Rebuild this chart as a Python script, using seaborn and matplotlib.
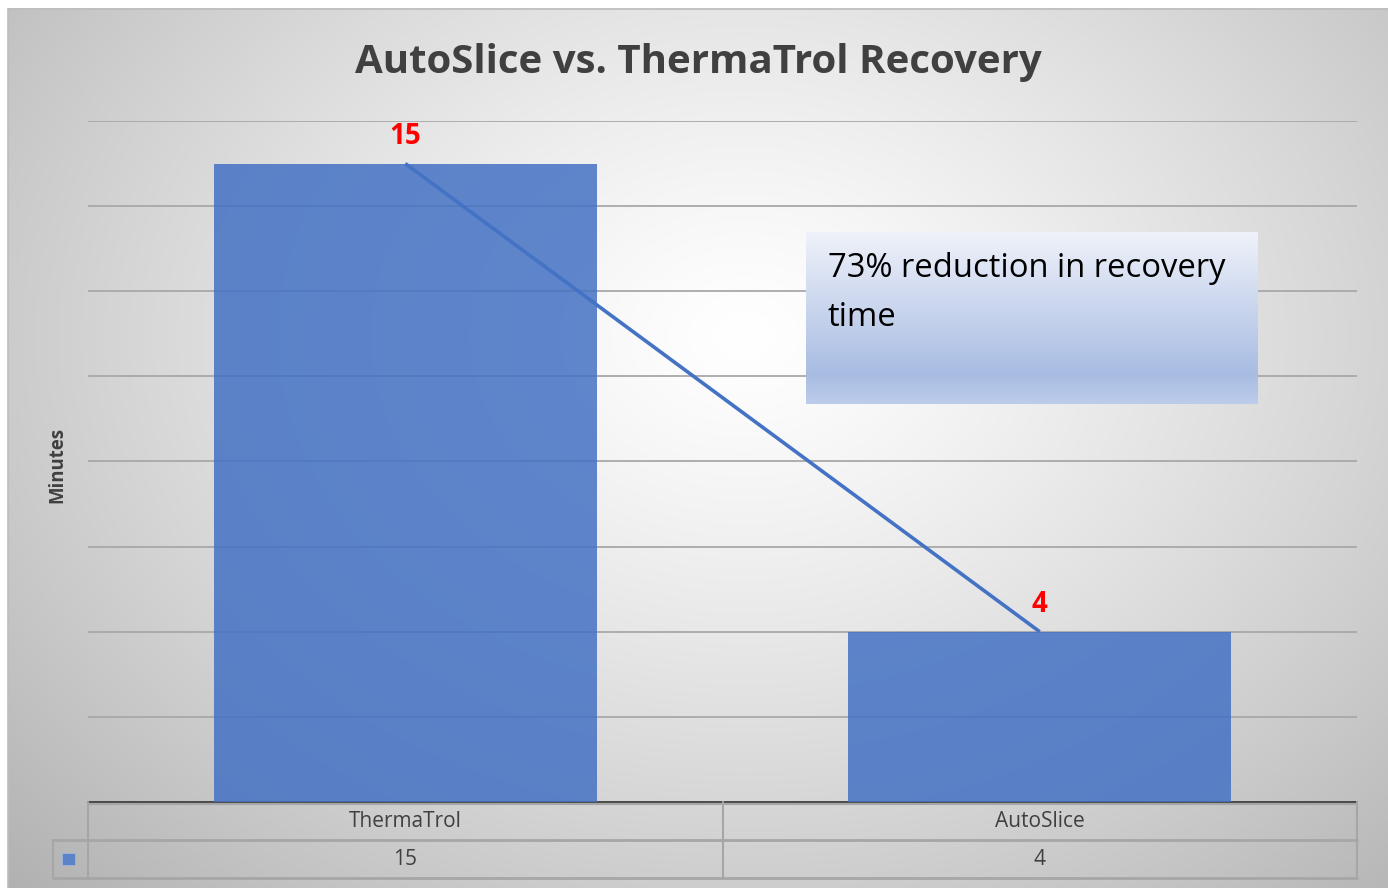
import numpy as np
import matplotlib
matplotlib.use("Agg")
import matplotlib.pyplot as plt
from matplotlib.patches import Rectangle
import seaborn as sns

# Chart data
categories = ["ThermaTrol", "AutoSlice"]
values = [15, 4]
table_values = ["15", "4"]
title = "AutoSlice vs. ThermaTrol Recovery"
y_label = "Minutes"
note = "73% reduction in recovery\ntime"

sns.set_theme(style="white")
plt.rcParams["font.family"] = ["Open Sans", "DejaVu Sans"]

W, H = 1388, 888
fig = plt.figure(figsize=(W / 100, H / 100), dpi=100)
fig.patch.set_facecolor("white")

# Radial grey-to-white chart background
bg = fig.add_axes([0, 0, 1, 1], zorder=-10)
bg.set_xlim(0, W)
bg.set_ylim(H, 0)
bg.axis("off")
yy, xx = np.mgrid[0:H, 0:W]
r = np.sqrt(((xx - 740) / 880.0) ** 2 + ((yy - 330) / 680.0) ** 2)
shade = np.clip(1.0 - 0.25 * np.clip(r, 0, 1.25) ** 1.25, 0, 1)
img = np.dstack([shade, shade, shade])
bg.imshow(img, extent=[8, W, H, 9], aspect="auto", interpolation="bilinear")
bg.plot([8, 8], [9, H], color="#bdbdbd", lw=1.2)
bg.plot([8, W], [9, 9], color="#bdbdbd", lw=1.2)

# Main plot area
px = lambda x0, y0, x1, y1: [x0 / W, 1 - y1 / H, (x1 - x0) / W, (y1 - y0) / H]
ax = fig.add_axes(px(88, 121, 1357, 802))
ax.patch.set_alpha(0)

bar_color = "#4472C4"
sns.barplot(x=categories, y=values, color=bar_color, saturation=1, width=0.604,
            alpha=0.85, ax=ax, zorder=3, linewidth=0)
ax.set_xlim(-0.5, 1.5)
ax.set_ylim(0, 16)
ax.set_yticks(np.arange(0, 17, 2))
ax.yaxis.grid(True, color="#a8a8a8", lw=1.3, zorder=1)
ax.set_axisbelow(True)
ax.tick_params(left=False, bottom=False, labelleft=False, labelbottom=False)
ax.set_xlabel("")
ax.set_ylabel("")
for s in ["top", "left", "right"]:
    ax.spines[s].set_visible(False)
ax.spines["bottom"].set_color("#404040")
ax.spines["bottom"].set_linewidth(1.3)

# Line linking the two bar tops
ax.plot(range(len(values)), values, color=bar_color, lw=2.6, zorder=5,
        solid_capstyle="butt")

# Value labels
for i, v in enumerate(values):
    ax.text(i, v + 0.3, str(v), color="#FF0000", fontsize=20, fontweight="bold",
            ha="center", va="bottom", zorder=6)

# Title and axis title
fig.text(698 / W, 1 - 63 / H, title, fontsize=29, fontweight="bold",
         color="#404040", ha="center", va="center")
fig.text(57 / W, 1 - 465 / H, y_label, fontsize=13.4, fontweight="bold",
         color="#404040", rotation=90, ha="center", va="center")

# Callout box with vertical blue gradient
box_ax = fig.add_axes(px(806, 232, 1258, 404), zorder=8)
box_ax.axis("off")
t = np.linspace(0, 1, 200)
top = np.array([0.94, 0.95, 0.98])
mid = np.array([0.66, 0.74, 0.89])
bot = np.array([0.74, 0.80, 0.92])
cols = np.where(t[:, None] < 0.83,
                top + (mid - top) * (t[:, None] / 0.83),
                mid + (bot - mid) * ((t[:, None] - 0.83) / 0.17))
box_ax.imshow(cols[:, None, :], extent=[0, 1, 0, 1], aspect="auto")
box_ax.set_xlim(0, 1)
box_ax.set_ylim(0, 1)
box_ax.text(22 / 452, 1 - 20 / 172, note, fontsize=23.6, color="#000000",
            ha="left", va="top", linespacing=1.62)

# Data table under the plot
tab = fig.add_axes(px(88, 802, 1357, 878), zorder=4)
tab.patch.set_alpha(0)
tab.set_xlim(-0.5, 1.5)
tab.set_ylim(2, 0)
tab.axis("off")
grid_c = "#a6a6a6"
tab.plot([-0.5, 1.5], [0.05, 0.05], color=grid_c, lw=1.5, clip_on=False)
tab.plot([-0.5, 1.5], [1, 1], color=grid_c, lw=2, clip_on=False)
tab.plot([-0.5, 1.5], [2, 2], color=grid_c, lw=2, clip_on=False)
for xb in [-0.5, 0.5, 1.5]:
    tab.plot([xb, xb], [0, 2], color=grid_c, lw=1.5, clip_on=False)
key_left = -0.5 - 35 / 634.5
tab.plot([key_left, -0.5], [1, 1], color=grid_c, lw=2, clip_on=False)
tab.plot([key_left, -0.5], [2, 2], color=grid_c, lw=2, clip_on=False)
tab.plot([key_left, key_left], [1, 2], color=grid_c, lw=1.5, clip_on=False)
for i, (c, v) in enumerate(zip(categories, table_values)):
    tab.text(i, 0.52, c, fontsize=15, color="#404040", ha="center", va="center")
    tab.text(i, 1.52, v, fontsize=15, color="#404040", ha="center", va="center")
tab.add_patch(Rectangle((-0.5 - 26 / 634.5, 1.33), 13 / 634.5, 0.34,
                        facecolor="#5B84C8", edgecolor="#9fb5e0", lw=0.6,
                        clip_on=False))

fig.savefig("out.png", dpi=100)
